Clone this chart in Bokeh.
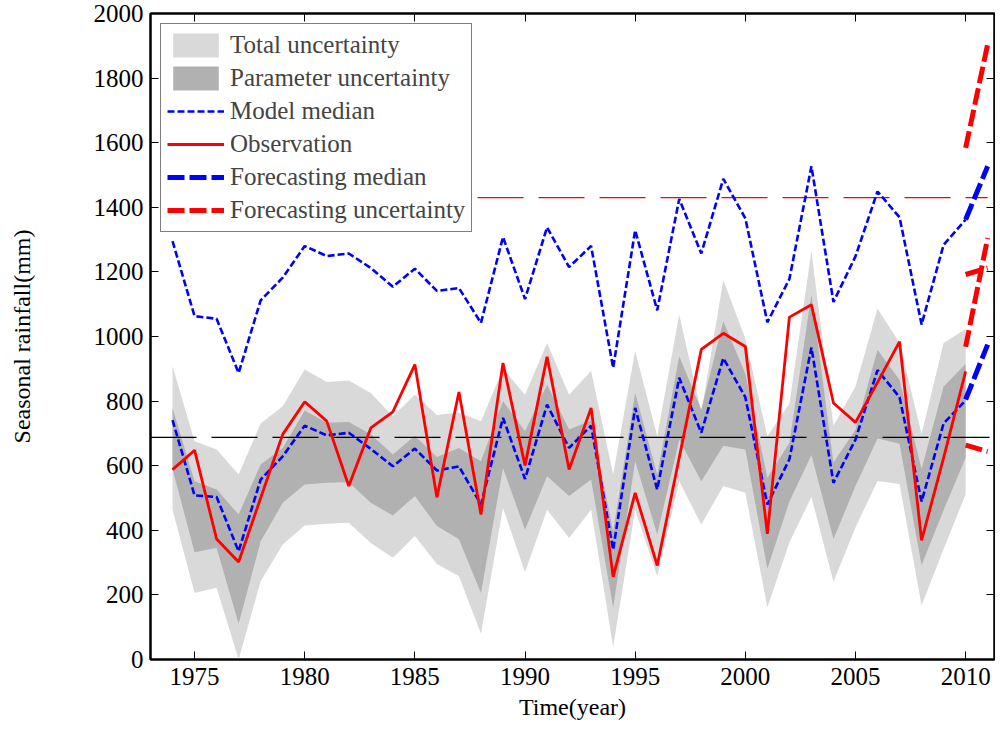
from bokeh.plotting import figure
from bokeh.models import (Range1d, FixedTicker, LinearAxis, Legend, LegendItem,
                          CustomLabelingPolicy)
from bokeh.embed import file_html
from bokeh.resources import INLINE

FONT = "Liberation Serif"

years = list(range(1974, 2011))

observation = [588, 648, 373, 302, 500, 697, 798, 738, 537, 717, 767, 913, 502,
               828, 449, 918, 601, 937, 588, 779, 256, 516, 291, 625, 960, 1010,
               969, 389, 1060, 1098, 794, 734, 858, 984, 369, 624, 892]

model_median = [741, 508, 503, 335, 557, 629, 724, 694, 702, 652, 598, 653, 585,
                598, 480, 748, 559, 789, 655, 724, 340, 779, 526, 872, 702, 933,
                812, 480, 620, 966, 547, 681, 896, 812, 489, 731, 802]

model_upper = [1295, 1063, 1055, 887, 1112, 1182, 1280, 1249, 1257, 1212, 1154, 1210, 1141,
               1150, 1042, 1308, 1116, 1338, 1215, 1280, 903, 1329, 1081, 1426, 1257, 1488,
               1366, 1044, 1178, 1527, 1107, 1248, 1449, 1369, 1037, 1284, 1362]

total_hi = [908, 676, 650, 573, 731, 784, 898, 859, 864, 825, 753, 820, 757,
            765, 738, 900, 820, 980, 820, 893, 573, 955, 691, 1068, 765, 1175,
            993, 691, 792, 1264, 724, 845, 1087, 980, 698, 980, 1023]

total_lo = [464, 206, 222, 0, 242, 356, 415, 420, 423, 361, 315, 382, 296,
            258, 80, 469, 270, 464, 376, 464, 39, 464, 258, 552, 418, 537,
            516, 161, 362, 503, 241, 409, 553, 543, 167, 342, 511]

param_hi = [779, 552, 526, 449, 604, 655, 771, 733, 735, 697, 635, 693, 627,
            655, 614, 800, 707, 851, 712, 740, 397, 825, 573, 939, 774, 1047,
            885, 563, 671, 1130, 610, 711, 959, 865, 590, 845, 915]

param_lo = [590, 332, 346, 111, 366, 485, 542, 547, 549, 485, 446, 506, 413,
            372, 206, 593, 402, 567, 506, 557, 160, 614, 387, 681, 552, 662,
            650, 281, 489, 633, 373, 537, 684, 668, 292, 463, 625]

mean_level = 688
upper_level = 1430
mean_x = [1973, 2011.4]
upper_x = [1974, 2011]

fc_years = [2010, 2011]
fc_median_hi = [1362, 1527]
fc_median_lo = [805, 975]
fc_unc_1 = [1584, 1905]
fc_unc_2 = [1192, 1212]
fc_unc_3 = [968, 1305]
fc_unc_4 = [664, 644]

x_ticks = [1975, 1980, 1985, 1990, 1995, 2000, 2005, 2010]
y_ticks = list(range(0, 2001, 200))

p = figure(width=995, height=722, x_range=Range1d(1973, 2011.31), y_range=Range1d(0, 2000),
           output_backend="svg", toolbar_location=None,
           min_border_left=150, min_border_right=1, min_border_top=13, min_border_bottom=63)
p.xgrid.visible = False
p.ygrid.visible = False
p.outline_line_color = "black"
p.outline_line_width = 2
p.background_fill_color = "white"
p.border_fill_color = "white"

light = p.varea(x=years, y1=total_lo, y2=total_hi, fill_color="#d9d9d9")
dark = p.varea(x=years, y1=param_lo, y2=param_hi, fill_color="#b1b1b1")

p.line(x=mean_x, y=[mean_level, mean_level], line_color="black", line_width=1.3, line_dash="46 15")
p.line(x=upper_x, y=[upper_level, upper_level], line_color="red", line_width=1.3, line_dash="46 15")

med = p.line(x=years, y=model_median, line_color="blue", line_width=2.6, line_dash="7 3")
p.line(x=years, y=model_upper, line_color="blue", line_width=2.6, line_dash="7 3")
obs = p.line(x=years, y=observation, line_color="red", line_width=2.8)

fmed = p.line(x=fc_years, y=fc_median_hi, line_color="blue", line_width=5, line_dash="17 5")
p.line(x=fc_years, y=fc_median_lo, line_color="blue", line_width=5, line_dash="17 5")
func = p.line(x=fc_years, y=fc_unc_1, line_color="red", line_width=5, line_dash="17 5")
p.line(x=fc_years, y=fc_unc_2, line_color="red", line_width=5, line_dash="17 5")
p.line(x=fc_years, y=fc_unc_3, line_color="red", line_width=5, line_dash="17 5")
p.line(x=fc_years, y=fc_unc_4, line_color="red", line_width=5, line_dash="17 5")


def style_axis(ax, labels=True):
    ax.axis_line_color = "black"
    ax.axis_line_width = 2
    ax.major_tick_in = 8
    ax.major_tick_out = 0
    ax.major_tick_line_color = "black"
    ax.major_tick_line_width = 1
    ax.minor_tick_line_color = None
    if labels:
        ax.major_label_text_font = FONT
        ax.major_label_text_font_size = "25px"
        ax.major_label_text_color = "black"
    else:
        ax.major_label_policy = CustomLabelingPolicy(
            code="for (const i of indices) { indices.unset(i) }\nreturn indices")
        ax.major_label_text_font_size = "0px"
        ax.major_label_standoff = 0


xa = p.below[0]
ya = p.left[0]
xa.ticker = FixedTicker(ticks=x_ticks)
ya.ticker = FixedTicker(ticks=y_ticks)
style_axis(xa)
style_axis(ya)
xa.major_label_standoff = 8
ya.major_label_standoff = 7
xa.axis_label = "Time(year)"
ya.axis_label = "Seasonal rainfall(mm)"
for ax in (xa, ya):
    ax.axis_label_text_font = FONT
    ax.axis_label_text_font_size = "24px"
    ax.axis_label_text_font_style = "normal"
    ax.axis_label_text_color = "black"
xa.axis_label_standoff = 6
ya.axis_label_standoff = 56

top_ax = LinearAxis(ticker=FixedTicker(ticks=x_ticks))
style_axis(top_ax, labels=False)
p.add_layout(top_ax, "above")
right_ax = LinearAxis(ticker=FixedTicker(ticks=y_ticks))
style_axis(right_ax, labels=False)
p.add_layout(right_ax, "right")

legend = Legend(items=[
    LegendItem(label="Total uncertainty", renderers=[light]),
    LegendItem(label="Parameter uncertainty", renderers=[dark]),
    LegendItem(label="Model median", renderers=[med]),
    LegendItem(label="Observation", renderers=[obs]),
    LegendItem(label="Forecasting median", renderers=[fmed]),
    LegendItem(label="Forecasting uncertainty", renderers=[func]),
], location="top_left", margin=10, padding=6, spacing=3,
    glyph_width=57, glyph_height=30, label_standoff=6,
    label_text_font=FONT, label_text_font_size="25px",
    border_line_color="black", border_line_width=1.5,
    background_fill_color="white", background_fill_alpha=1.0)
p.add_layout(legend)

open("out.html", "w").write(file_html(p, INLINE))
